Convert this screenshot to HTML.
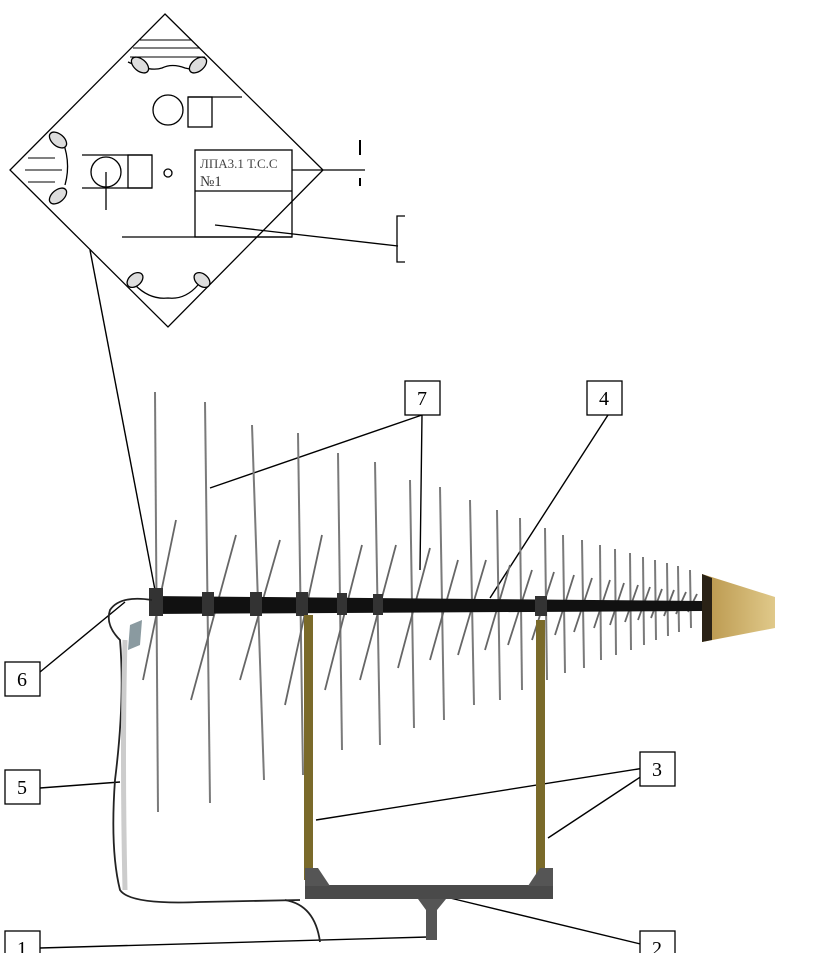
<!DOCTYPE html>
<html><head><meta charset="utf-8"><style>
html,body{margin:0;padding:0;background:#fff;}
svg{display:block;}
text{font-family:"Liberation Serif",serif;}
</style></head><body>
<svg width="838" height="953" viewBox="0 0 838 953" xmlns="http://www.w3.org/2000/svg">
<defs><linearGradient id="cg" x1="0" x2="1"><stop offset="0" stop-color="#b8954a"/><stop offset="1" stop-color="#e0c98a"/></linearGradient></defs>
<rect width="838" height="953" fill="#fff"/>
<g stroke="#000" fill="none" stroke-width="1.3">
<polygon points="165,14 323,170 168,327 10,170"/>
<path d="M140,40 L192,40 M133,48 L200,48 M130,57 L205,57" stroke-width="1"/>
<path d="M28,158 L55,158 M25,170 L62,170 M28,182 L55,182" stroke-width="1"/>
<path d="M128,62 Q150,72 162,68 Q172,63 185,68 Q200,72 205,62" />
<path d="M135,285 Q150,300 168,298 Q185,300 198,285"/>
<path d="M60,135 Q72,160 65,185"/>
<ellipse cx="140" cy="65" rx="10" ry="6" transform="rotate(40 140 65)" fill="#ddd"/>
<ellipse cx="198" cy="65" rx="10" ry="6" transform="rotate(-40 198 65)" fill="#ddd"/>
<ellipse cx="58" cy="140" rx="10" ry="6" transform="rotate(40 58 140)" fill="#ddd"/>
<ellipse cx="58" cy="196" rx="10" ry="6" transform="rotate(-40 58 196)" fill="#ddd"/>
<ellipse cx="135" cy="280" rx="9" ry="6" transform="rotate(-40 135 280)" fill="#ddd"/>
<ellipse cx="202" cy="280" rx="9" ry="6" transform="rotate(40 202 280)" fill="#ddd"/>
<circle cx="168" cy="110" r="15"/>
<rect x="188" y="97" width="24" height="30"/>
<path d="M188,97 L242,97"/>
<circle cx="106" cy="172" r="15"/>
<rect x="128" y="155" width="24" height="33"/>
<path d="M82,155 L152,155 M82,188 L152,188"/>
<circle cx="168" cy="173" r="4"/>
<path d="M106,172 L106,210"/>
<rect x="195" y="150" width="97" height="87"/>
<path d="M195,191 L292,191 M292,170 L365,170 M122,237 L292,237"/>
<path d="M215,225 L398,246"/>
<path d="M405,216 L397,216 L397,262 L405,262"/>
<path d="M360,140 L360,155 M360,178 L360,186" stroke-width="2"/>
</g>
<text x="200" y="168" font-size="13" fill="#444" font-family="Liberation Sans,sans-serif">ЛПА3.1 Т.С.С</text>
<text x="200" y="186" font-size="15" fill="#333" font-family="Liberation Sans,sans-serif">№1</text>
<g stroke="#000" stroke-width="1.4" fill="none">
<path d="M90,250 L155,590"/>
<path d="M422,415 L210,488 M422,415 L420,570"/>
<path d="M608,415 L490,598"/>
<path d="M40,672 L125,602"/>
<path d="M40,788 L120,782"/>
<path d="M657,766 L316,820 M657,766 L548,838"/>
<path d="M40,948 L428,937"/>
<path d="M657,948 L450,898"/>
</g>
<g stroke="#7a7a7a" stroke-width="2">
<path d="M155,392 L158,812"/><path d="M205,402 L210,803"/><path d="M252,425 L264,780"/>
<path d="M298,433 L303,775"/><path d="M338,453 L342,750"/><path d="M375,462 L380,745"/>
<path d="M410,480 L414,728"/><path d="M440,487 L444,720"/><path d="M470,500 L474,705"/>
<path d="M497,510 L500,700"/><path d="M520,518 L522,690"/><path d="M545,528 L547,680"/>
<path d="M563,535 L565,673"/><path d="M582,540 L584,668"/><path d="M600,545 L601,660"/>
<path d="M615,549 L616,655"/><path d="M630,553 L631,650"/><path d="M643,557 L644,645"/>
<path d="M655,560 L656,640"/><path d="M667,563 L668,636"/><path d="M678,566 L679,632"/>
<path d="M690,570 L691,628"/>
</g>
<g stroke="#666" stroke-width="1.8">
<path d="M176,520 L143,680"/><path d="M236,535 L191,700"/><path d="M280,540 L240,680"/>
<path d="M322,535 L285,705"/><path d="M362,545 L325,690"/><path d="M396,545 L360,680"/>
<path d="M430,548 L398,668"/><path d="M458,560 L430,660"/><path d="M486,560 L458,655"/>
<path d="M510,565 L485,650"/><path d="M532,570 L508,645"/><path d="M554,572 L532,640"/>
<path d="M574,575 L555,635"/><path d="M592,578 L574,632"/><path d="M610,580 L594,628"/>
<path d="M624,583 L610,625"/><path d="M638,585 L625,622"/><path d="M650,587 L638,620"/>
<path d="M662,589 L651,618"/><path d="M674,590 L664,616"/><path d="M686,592 L676,614"/>
<path d="M697,594 L688,612"/>
</g>
<polygon points="150,596 705,601 705,611 150,614" fill="#111"/>
<g fill="#333">
<rect x="149" y="588" width="14" height="28"/><rect x="202" y="592" width="12" height="24"/>
<rect x="250" y="592" width="12" height="24"/><rect x="296" y="592" width="12" height="24"/>
<rect x="337" y="593" width="10" height="22"/><rect x="373" y="594" width="10" height="21"/>
<rect x="535" y="596" width="12" height="20"/>
</g>
<polygon points="702,574 775,597 775,628 702,642" fill="url(#cg)"/>
<polygon points="702,574 712,578 712,640 702,642" fill="#2a2216"/>
<rect x="304" y="615" width="9" height="265" fill="#7a6a2a"/>
<rect x="536" y="620" width="9" height="260" fill="#7a6a2a"/>
<rect x="305" y="885" width="248" height="14" fill="#4a4a4a"/>
<polygon points="305,868 318,868 330,886 305,886" fill="#555"/>
<polygon points="540,868 553,868 553,886 528,886" fill="#555"/>
<polygon points="418,899 446,899 437,910 437,940 426,940 426,910" fill="#555"/>
<g stroke="#222" stroke-width="1.8" fill="none">
<path d="M152,600 Q120,595 110,610 Q105,625 120,640 Q125,700 115,780 Q110,850 120,890 Q130,905 200,902 L300,900"/>
<path d="M285,900 Q315,905 320,942"/>
</g>
<path d="M130,625 L142,620 L140,645 L128,650 Z" fill="#8a9aa0"/>
<path d="M125,640 Q122,750 125,890" stroke="#ccc" stroke-width="5" fill="none"/>
<g fill="#fff" stroke="#000" stroke-width="1.3">
<rect x="405" y="381" width="35" height="34"/><rect x="587" y="381" width="35" height="34"/>
<rect x="5" y="662" width="35" height="34"/><rect x="5" y="770" width="35" height="34"/>
<rect x="640" y="752" width="35" height="34"/><rect x="5" y="931" width="35" height="30"/>
<rect x="640" y="931" width="35" height="30"/>
</g>
<g font-size="20" text-anchor="middle" fill="#000">
<text x="422" y="405">7</text><text x="604" y="405">4</text>
<text x="22" y="686">6</text><text x="22" y="794">5</text>
<text x="657" y="776">3</text><text x="22" y="955">1</text><text x="657" y="955">2</text>
</g>
</svg>
</body></html>
